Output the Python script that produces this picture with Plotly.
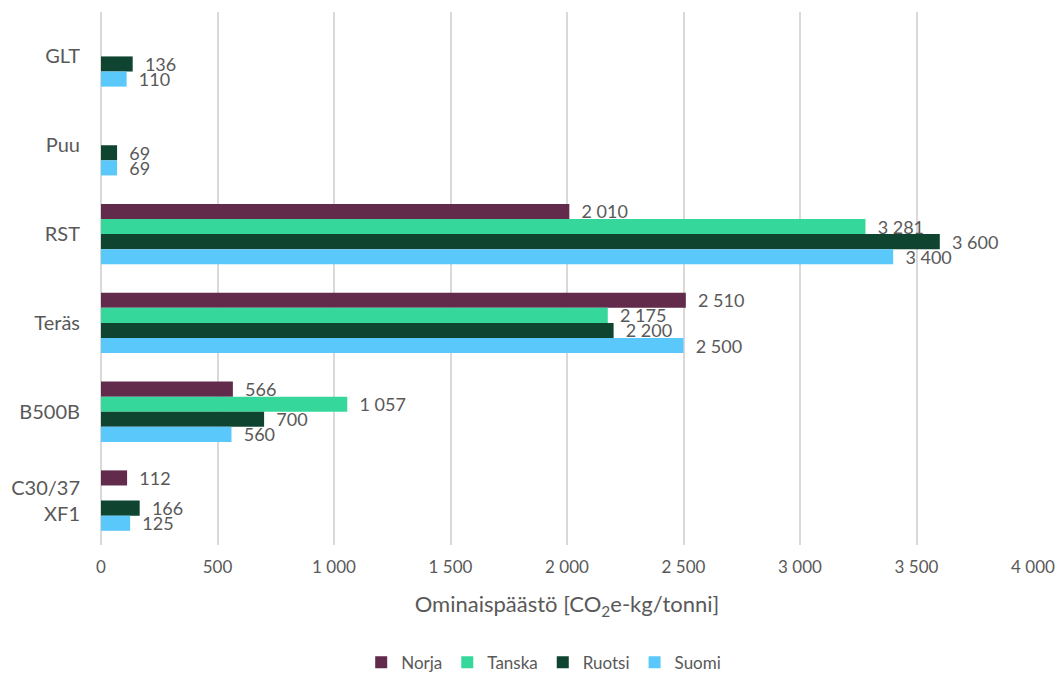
import plotly.graph_objects as go

categories = ["GLT", "Puu", "RST", "Teräs", "B500B", "C30/37<br>XF1"]
norja = [None, None, 2010, 2510, 566, 112]
tanska = [None, None, 3281, 2175, 1057, None]
ruotsi = [136, 69, 3600, 2200, 700, 166]
suomi = [110, 69, 3400, 2500, 560, 125]

series = [
    ("Norja", norja, "#622A4B"),
    ("Tanska", tanska, "#36D79B"),
    ("Ruotsi", ruotsi, "#0E4430"),
    ("Suomi", suomi, "#5BC8FC"),
]

FONT = "Lato, 'Open Sans', sans-serif"
GREY = "#595959"

fig = go.Figure()
for name, vals, color in series:
    fig.add_trace(go.Bar(
        name=name,
        x=vals,
        y=categories,
        orientation="h",
        marker=dict(color=color, line=dict(width=0)),
        texttemplate="  %{x:,d}",
        textposition="outside",
        constraintext="none",
        cliponaxis=False,
        textfont=dict(family=FONT, size=18, color=GREY),
    ))

fig.update_layout(
    width=1059,
    height=674,
    margin=dict(l=101, r=26, t=12, b=129, autoexpand=False),
    paper_bgcolor="white",
    plot_bgcolor="white",
    barmode="group",
    bargap=0.32,
    bargroupgap=0,
    separators=", ",
    font=dict(family=FONT, color=GREY),
    showlegend=True,
    legend=dict(
        orientation="h",
        x=0.475, xanchor="center",
        y=-0.221, yanchor="middle",
        font=dict(family=FONT, size=17, color=GREY),
        itemwidth=30,
        traceorder="normal",
    ),
    xaxis=dict(
        range=[0, 4000],
        dtick=500,
        tickformat=",d",
        showgrid=True,
        gridcolor="#D9D9D9",
        gridwidth=1.5,
        zeroline=True,
        zerolinecolor="#D9D9D9",
        zerolinewidth=1.5,
        showline=False,
        ticks="",
        ticklabelstandoff=10,
        tickfont=dict(family=FONT, size=17, color=GREY),
        title=dict(
            text="Ominaispäästö [CO<sub>2</sub>e-kg/tonni]",
            font=dict(family=FONT, size=22, color=GREY),
            standoff=20,
        ),
        fixedrange=True,
    ),
    yaxis=dict(
        autorange="reversed",
        showgrid=False,
        showline=False,
        ticks="",
        ticklabelstandoff=20,
        tickfont=dict(family=FONT, size=20, color=GREY),
        fixedrange=True,
    ),
)

fig.write_html("out.html")
